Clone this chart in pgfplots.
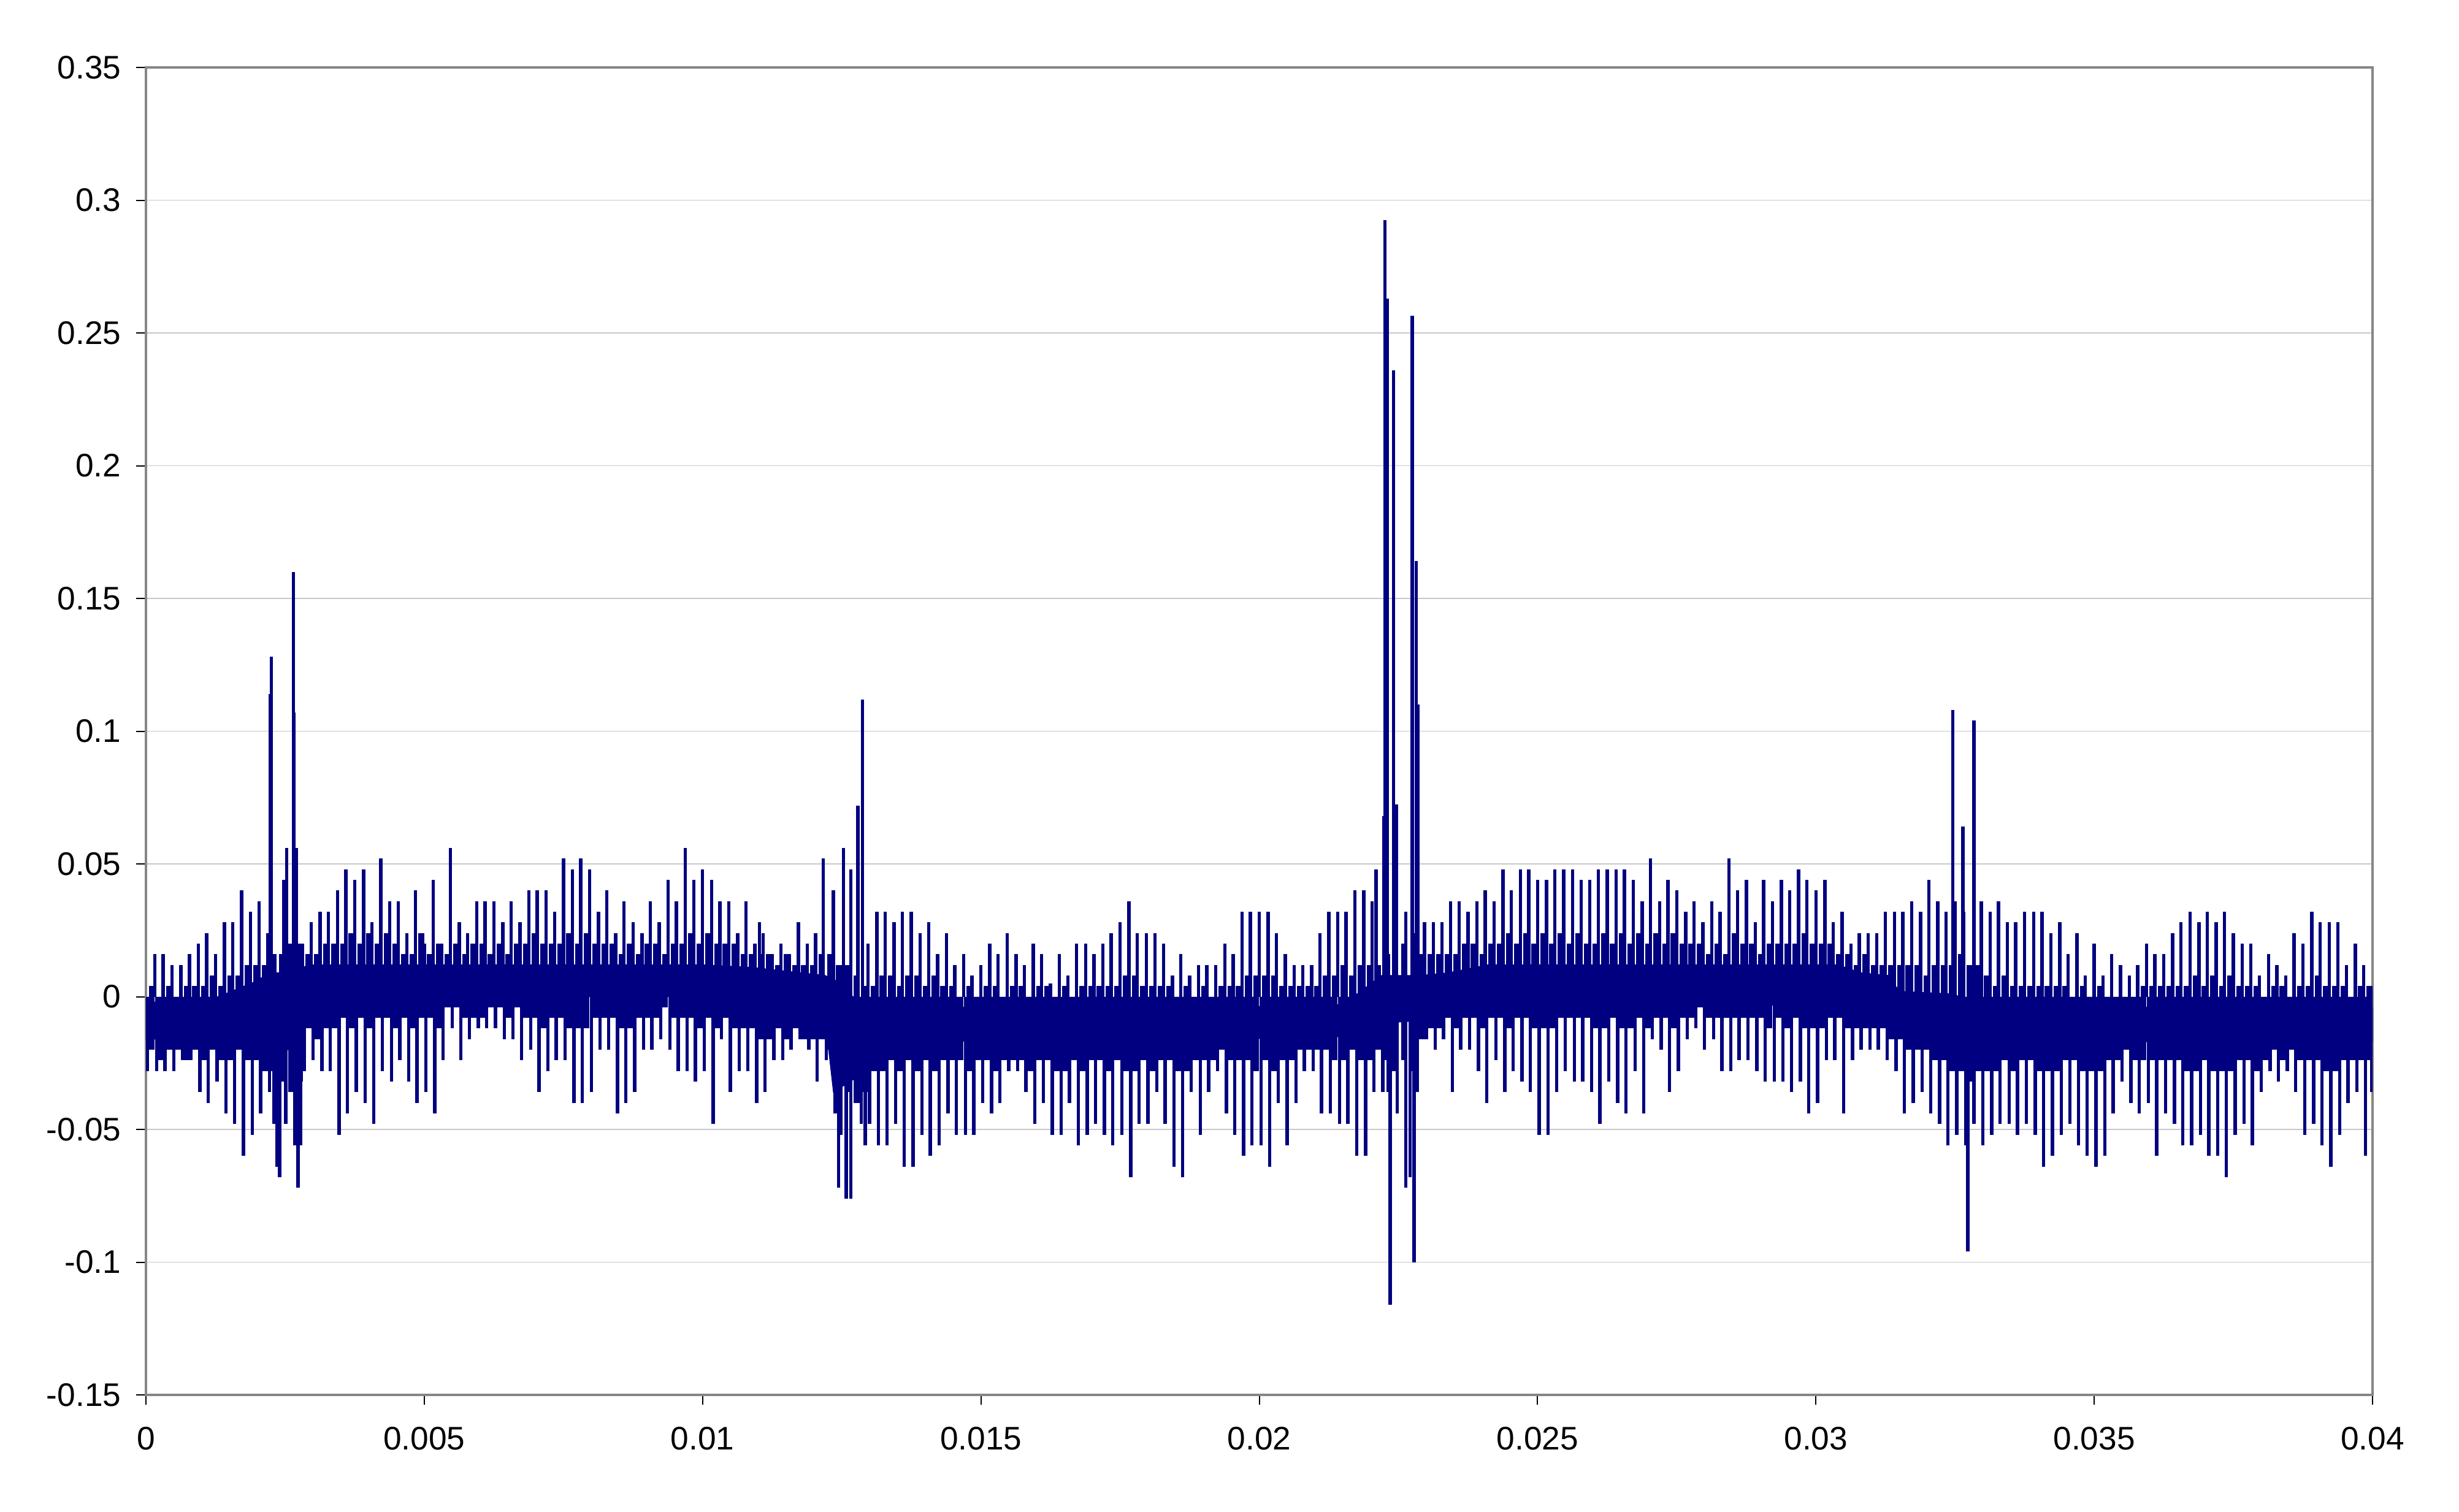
\documentclass[border=0pt]{standalone}
\usepackage{fontspec}
\setmainfont{Liberation Sans}
\usepackage{pgfplots}
\usepackage{pgfplotstable}
\pgfplotsset{compat=1.18}
\definecolor{sig}{RGB}{0,0,128}
\definecolor{frame}{RGB}{134,134,134}
\definecolor{gridc}{RGB}{200,200,200}

% smaller pulses between the main ones, read by eye
\pgfplotstableread{
t up dn
0.00008 0.004 -0.02
0.00024 0 -0.024
0.00039 0.004 -0.02
0.00055 0 -0.02
0.00071 0.004 -0.024
0.00086 0.004 -0.02
0.00102 0.004 -0.024
0.00117 0.008 -0.02
0.00133 0.004 -0.024
0.00149 0.008 -0.024
0.00164 0.008 -0.02
0.0018 0.012 -0.024
0.00196 0.012 -0.024
0.00211 0.012 -0.028
0.00227 0.016 -0.028
0.00242 0.016 -0.032
0.00258 0.02 -0.036
0.00274 0.02 -0.032
0.00289 0.016 -0.012
0.00305 0.016 -0.016
0.00321 0.02 -0.012
0.00336 0.02 -0.012
0.00352 0.02 -0.008
0.00367 0.024 -0.012
0.00383 0.02 -0.008
0.00399 0.024 -0.012
0.00414 0.02 -0.008
0.0043 0.024 -0.008
0.00446 0.02 -0.012
0.00461 0.016 -0.008
0.00477 0.016 -0.012
0.00492 0.024 -0.008
0.00508 0.016 -0.008
0.00524 0.02 -0.012
0.00539 0.016 -0.004
0.00555 0.02 -0.004
0.00571 0.016 -0.008
0.00586 0.02 -0.008
0.00602 0.02 -0.008
0.00617 0.016 -0.004
0.00633 0.02 -0.004
0.00649 0.016 -0.008
0.00664 0.02 -0.004
0.0068 0.02 -0.008
0.00696 0.024 -0.008
0.00711 0.02 -0.012
0.00727 0.02 -0.008
0.00742 0.02 -0.008
0.00758 0.024 -0.012
0.00774 0.02 -0.012
0.00789 0.024 -0.012
0.00805 0.02 -0.008
0.00821 0.02 -0.008
0.00836 0.02 -0.008
0.00852 0.016 -0.012
0.00867 0.02 -0.012
0.00883 0.016 -0.008
0.00899 0.02 -0.008
0.00914 0.02 -0.008
0.0093 0.016 -0.004
0.00946 0.02 -0.008
0.00961 0.02 -0.008
0.00977 0.024 -0.008
0.00992 0.02 -0.012
0.01008 0.024 -0.008
0.01024 0.02 -0.012
0.01039 0.02 -0.008
0.01055 0.02 -0.012
0.01071 0.016 -0.012
0.01086 0.016 -0.012
0.01102 0.016 -0.016
0.01117 0.016 -0.016
0.01133 0.012 -0.012
0.01149 0.016 -0.016
0.01164 0.012 -0.012
0.0118 0.012 -0.016
0.01196 0.012 -0.016
0.01211 0.016 -0.016
0.01227 0.016 -0.02
0.01242 0.012 -0.032
0.01258 0.012 -0.036
0.01274 0.008 -0.04
0.01289 0.004 -0.036
0.01305 0.004 -0.028
0.01321 0.008 -0.028
0.01336 0.008 -0.024
0.01352 0.004 -0.028
0.01367 0.008 -0.024
0.01383 0.008 -0.028
0.01399 0.004 -0.024
0.01414 0.008 -0.028
0.0143 0.004 -0.024
0.01446 0.004 -0.024
0.01461 0 -0.024
0.01477 0.004 -0.028
0.01492 0 -0.024
0.01508 0.004 -0.024
0.01524 0.004 -0.028
0.01539 0 -0.024
0.01555 0.004 -0.024
0.01571 0.004 -0.024
0.01586 0 -0.028
0.01602 0.004 -0.024
0.01617 0.004 -0.024
0.01633 0 -0.028
0.01649 0.004 -0.028
0.01664 0 -0.024
0.0168 0.004 -0.028
0.01696 0.004 -0.024
0.01711 0.004 -0.024
0.01727 0.004 -0.028
0.01742 0.004 -0.024
0.01758 0.008 -0.028
0.01774 0.008 -0.028
0.01789 0.004 -0.024
0.01805 0.004 -0.028
0.01821 0.004 -0.024
0.01836 0.004 -0.024
0.01852 0 -0.028
0.01867 0.004 -0.028
0.01883 0 -0.024
0.01899 0.004 -0.024
0.01914 0 -0.024
0.0193 0.004 -0.02
0.01946 0.004 -0.024
0.01961 0.004 -0.024
0.01977 0.008 -0.024
0.01992 0.008 -0.028
0.02008 0.008 -0.024
0.02024 0.008 -0.028
0.02039 0.004 -0.024
0.02055 0.004 -0.024
0.02071 0.004 -0.02
0.02086 0.004 -0.02
0.02102 0.004 -0.02
0.02117 0.008 -0.02
0.02133 0.008 -0.024
0.02149 0.012 -0.024
0.02164 0.008 -0.02
0.0218 0.012 -0.024
0.02196 0.012 -0.024
0.02211 0.012 -0.02
0.02227 0.016 -0.024
0.02242 0.02 -0.028
0.02258 0.02 -0.024
0.02274 0.024 -0.028
0.02289 0.016 -0.016
0.02305 0.016 -0.012
0.02321 0.016 -0.012
0.02336 0.016 -0.008
0.02352 0.016 -0.012
0.02367 0.02 -0.008
0.02383 0.02 -0.008
0.02399 0.016 -0.012
0.02414 0.02 -0.008
0.0243 0.02 -0.008
0.02446 0.024 -0.012
0.02461 0.02 -0.008
0.02477 0.024 -0.008
0.02492 0.02 -0.012
0.02508 0.024 -0.012
0.02524 0.02 -0.012
0.02539 0.024 -0.008
0.02555 0.02 -0.008
0.02571 0.024 -0.008
0.02586 0.02 -0.008
0.02602 0.02 -0.012
0.02617 0.024 -0.012
0.02633 0.02 -0.008
0.02649 0.024 -0.012
0.02664 0.02 -0.012
0.0268 0.024 -0.008
0.02696 0.02 -0.012
0.02711 0.024 -0.008
0.02727 0.02 -0.008
0.02742 0.024 -0.012
0.02758 0.02 -0.008
0.02774 0.02 -0.008
0.02789 0.02 -0.004
0.02805 0.016 -0.008
0.02821 0.02 -0.008
0.02836 0.016 -0.008
0.02852 0.024 -0.008
0.02867 0.02 -0.008
0.02883 0.02 -0.008
0.02899 0.016 -0.008
0.02914 0.02 -0.012
0.0293 0.02 -0.008
0.02946 0.02 -0.012
0.02961 0.02 -0.008
0.02977 0.024 -0.012
0.02992 0.02 -0.012
0.03008 0.02 -0.012
0.03024 0.02 -0.008
0.03039 0.016 -0.008
0.03055 0.016 -0.012
0.03071 0.012 -0.012
0.03086 0.016 -0.012
0.03102 0.012 -0.012
0.03117 0.012 -0.012
0.03133 0.012 -0.016
0.03149 0.012 -0.016
0.03164 0.012 -0.02
0.0318 0.012 -0.02
0.03196 0.008 -0.02
0.03211 0.012 -0.024
0.03227 0.012 -0.024
0.03242 0.012 -0.028
0.03258 0.016 -0.028
0.03274 0.012 -0.032
0.03289 0.012 -0.028
0.03305 0.008 -0.028
0.03321 0.004 -0.028
0.03336 0.008 -0.024
0.03352 0.004 -0.028
0.03367 0.004 -0.024
0.03383 0.004 -0.024
0.03399 0.004 -0.028
0.03414 0.004 -0.028
0.0343 0.004 -0.028
0.03446 0.004 -0.024
0.03461 0 -0.024
0.03477 0.004 -0.028
0.03492 0 -0.028
0.03508 0.004 -0.028
0.03524 0 -0.024
0.03539 0 -0.024
0.03555 0 -0.02
0.03571 0 -0.024
0.03586 0.004 -0.024
0.03602 0.004 -0.024
0.03617 0.004 -0.024
0.03633 0.004 -0.024
0.03649 0.004 -0.024
0.03664 0.004 -0.028
0.0368 0.008 -0.028
0.03696 0.004 -0.024
0.03711 0.008 -0.028
0.03727 0.004 -0.028
0.03742 0.008 -0.028
0.03758 0.004 -0.024
0.03774 0.004 -0.024
0.03789 0.004 -0.028
0.03805 0 -0.024
0.03821 0.004 -0.02
0.03836 0.004 -0.024
0.03852 0 -0.02
0.03867 0.004 -0.024
0.03883 0.004 -0.024
0.03899 0.008 -0.024
0.03914 0.004 -0.028
0.0393 0.004 -0.028
0.03946 0.004 -0.024
0.03961 0 -0.024
0.03977 0.004 -0.024
0.03992 0.004 -0.024
}\fuzz

\begin{document}
\begin{tikzpicture}
\useasboundingbox (-59.5pt,-47.5pt) rectangle (943pt,568.75pt);
\begin{axis}[
  at={(0pt,0pt)}, anchor=south west,
  scale only axis, width=907.75pt, height=541.25pt,
  xmin=0, xmax=0.04, ymin=-0.15, ymax=0.35,
  xtick={0,0.005,0.01,0.015,0.02,0.025,0.03,0.035,0.04},
  xticklabels={0,0.005,0.01,0.015,0.02,0.025,0.03,0.035,0.04},
  ytick={-0.15,-0.1,-0.05,0,0.05,0.1,0.15,0.2,0.25,0.3,0.35},
  yticklabels={-0.15,-0.1,-0.05,0,0.05,0.1,0.15,0.2,0.25,0.3,0.35},
  scaled ticks=false,
  tick align=outside, tickpos=left,
  major tick length=4pt,
  tick style={black, line width=0.5pt},
  ymajorgrids, grid style={gridc, line width=0.4pt},
  axis line style={frame, line width=1.2pt},
  tick label style={font=\fontsize{13.3}{15}\selectfont, black, inner sep=0pt},
  x tick label style={yshift=-9pt},
  y tick label style={xshift=-6pt},
]
% solid band of the trace
\addplot[sig, fill=sig, line width=0.3pt] coordinates {
(0,-0.002)(0.0008,-0.002)(0.0013,0)(0.002,0.006)(0.0022,0.009)(0.0027,0.009)(0.0029,0.012)
(0.0034,0.012)(0.01,0.012)(0.0109,0.011)(0.0122,0.008)(0.0124,0.006)(0.0127,0)(0.0129,-0.004)
(0.0195,-0.004)(0.0215,-0.003)(0.0222,0.008)(0.0229,0.008)(0.0234,0.009)(0.0241,0.012)
(0.0304,0.012)(0.0308,0.009)(0.0313,0.008)(0.0315,0.002)(0.0325,0.001)(0.0328,-0.004)(0.04,-0.004)
(0.04,-0.017)(0.0328,-0.017)(0.0325,-0.014)(0.0315,-0.012)(0.0313,-0.006)(0.0304,-0.004)(0.0241,0)
(0.0234,-0.005)(0.0229,-0.009)(0.0222,-0.01)(0.0215,-0.015)(0.0195,-0.016)(0.0132,-0.017)(0.0128,-0.03)
(0.01235,-0.036)(0.0122,-0.008)(0.0109,-0.004)(0.01,0)(0.0034,0)(0.0029,-0.004)(0.0027,-0.02)
(0.0022,-0.02)(0.002,-0.016)(0.0013,-0.012)(0.0008,-0.016)(0,-0.016)} \closedcycle;
\addplot[ycomb, sig, line width=1.35pt] table[x=t, y=up] {\fuzz};
\addplot[ycomb, sig, line width=1.35pt] table[x=t, y=dn] {\fuzz};
% the same small pulses occur a second time in each period
\addplot[ycomb, sig, line width=1.35pt] table[x expr=\thisrow{t}+0.00005, y=up] {\fuzz};
\addplot[ycomb, sig, line width=1.35pt] table[x expr=\thisrow{t}+0.00005, y=dn] {\fuzz};
% upward pulses
\addplot[ycomb, sig, line width=1.35pt] coordinates {
(0.00016,0.016)(0.00031,0.016)(0.00047,0.012)(0.00063,0.012)(0.00078,0.016)(0.00094,0.02)(0.00109,0.024)(0.00125,0.016)
(0.00141,0.028)(0.00156,0.028)(0.00172,0.04)(0.00188,0.032)(0.00203,0.036)(0.00219,0.024)(0.00223,0.114)(0.00225,0.128)
(0.00248,0.044)(0.00253,0.056)(0.00265,0.16)(0.00266,0.107)(0.0027,0.056)(0.00281,0.02)(0.00297,0.028)(0.00313,0.032)
(0.00328,0.032)(0.00344,0.04)(0.00359,0.048)(0.00375,0.044)(0.00391,0.048)(0.00406,0.028)(0.00422,0.052)(0.00438,0.036)
(0.00453,0.036)(0.00469,0.024)(0.00484,0.04)(0.005,0.02)(0.00516,0.044)(0.00531,0.02)(0.00547,0.056)(0.00563,0.028)
(0.00578,0.024)(0.00594,0.036)(0.00609,0.036)(0.00625,0.036)(0.00641,0.028)(0.00656,0.036)(0.00672,0.028)(0.00688,0.04)
(0.00703,0.04)(0.00719,0.04)(0.00734,0.032)(0.0075,0.052)(0.00766,0.048)(0.00781,0.052)(0.00797,0.048)(0.00813,0.032)
(0.00828,0.04)(0.00844,0.024)(0.00859,0.036)(0.00875,0.028)(0.00891,0.024)(0.00906,0.036)(0.00922,0.028)(0.00938,0.044)
(0.00953,0.036)(0.00969,0.056)(0.00984,0.044)(0.01,0.048)(0.01016,0.044)(0.01031,0.036)(0.01047,0.036)(0.01063,0.024)
(0.01078,0.036)(0.01094,0.02)(0.01102,0.028)(0.01109,0.024)(0.01125,0.016)(0.01141,0.02)(0.01156,0.016)(0.01172,0.028)
(0.01188,0.02)(0.01203,0.024)(0.01217,0.052)(0.01235,0.04)(0.01253,0.056)(0.01266,0.048)(0.01279,0.072)(0.01287,0.112)
(0.01297,0.02)(0.01313,0.032)(0.01328,0.032)(0.01344,0.028)(0.01359,0.032)(0.01375,0.032)(0.01391,0.024)(0.01406,0.028)
(0.01422,0.016)(0.01438,0.024)(0.01453,0.012)(0.01469,0.016)(0.01484,0.008)(0.015,0.012)(0.01516,0.02)(0.01531,0.016)
(0.01547,0.024)(0.01563,0.016)(0.01578,0.012)(0.01594,0.02)(0.01609,0.016)(0.01625,0.005)(0.01641,0.016)(0.01656,0.008)
(0.01672,0.02)(0.01688,0.02)(0.01703,0.016)(0.01719,0.02)(0.01734,0.024)(0.0175,0.028)(0.01766,0.036)(0.01781,0.024)
(0.01797,0.024)(0.01813,0.024)(0.01828,0.02)(0.01844,0.008)(0.01859,0.016)(0.01875,0.008)(0.01891,0.012)(0.01906,0.012)
(0.01922,0.012)(0.01938,0.02)(0.01953,0.016)(0.01969,0.032)(0.01984,0.032)(0.02,0.032)(0.02016,0.032)(0.02031,0.024)
(0.02047,0.016)(0.02063,0.012)(0.02078,0.012)(0.02094,0.012)(0.02109,0.024)(0.02125,0.032)(0.02141,0.032)(0.02156,0.032)
(0.02172,0.04)(0.02188,0.04)(0.02203,0.036)(0.0221,0.048)(0.02224,0.068)(0.02226,0.2925)(0.0223,0.263)(0.02241,0.236)
(0.02246,0.0725)(0.02263,0.032)(0.02274,0.155)(0.02275,0.2565)(0.02282,0.164)(0.02285,0.11)(0.02297,0.028)(0.02313,0.028)
(0.02328,0.028)(0.02344,0.036)(0.02359,0.036)(0.02375,0.032)(0.02391,0.036)(0.02406,0.04)(0.02422,0.036)(0.02438,0.048)
(0.02453,0.04)(0.02469,0.048)(0.02484,0.048)(0.025,0.044)(0.02516,0.044)(0.02531,0.048)(0.02547,0.048)(0.02563,0.048)
(0.02578,0.044)(0.02594,0.044)(0.02609,0.048)(0.02625,0.048)(0.02641,0.048)(0.02656,0.048)(0.02672,0.044)(0.02688,0.036)
(0.02703,0.052)(0.02719,0.036)(0.02734,0.044)(0.0275,0.04)(0.02766,0.032)(0.02781,0.036)(0.02797,0.028)(0.02813,0.036)
(0.02828,0.032)(0.02844,0.052)(0.02859,0.04)(0.02875,0.044)(0.02891,0.028)(0.02906,0.044)(0.02922,0.036)(0.02938,0.044)
(0.02953,0.04)(0.02969,0.048)(0.02984,0.044)(0.03,0.04)(0.03016,0.044)(0.03031,0.028)(0.03047,0.032)(0.03063,0.02)
(0.03078,0.024)(0.03094,0.024)(0.03109,0.024)(0.03125,0.032)(0.03141,0.032)(0.03156,0.032)(0.03172,0.036)(0.03188,0.032)
(0.03203,0.044)(0.03219,0.036)(0.03234,0.032)(0.03246,0.108)(0.0325,0.036)(0.03264,0.064)(0.03266,0.032)(0.03284,0.104)
(0.03297,0.036)(0.03313,0.032)(0.03328,0.036)(0.03344,0.028)(0.03359,0.028)(0.03375,0.032)(0.03391,0.032)(0.03406,0.032)
(0.03422,0.024)(0.03438,0.028)(0.03453,0.016)(0.03469,0.024)(0.03484,0.008)(0.035,0.02)(0.03516,0.008)(0.03531,0.016)
(0.03547,0.012)(0.03563,0.008)(0.03578,0.012)(0.03594,0.02)(0.03609,0.016)(0.03625,0.016)(0.03641,0.024)(0.03656,0.028)
(0.03672,0.032)(0.03688,0.028)(0.03703,0.032)(0.03719,0.028)(0.03734,0.032)(0.0375,0.024)(0.03766,0.02)(0.03781,0.02)
(0.03797,0.008)(0.03813,0.016)(0.03828,0.012)(0.03844,0.008)(0.03859,0.024)(0.03875,0.02)(0.03891,0.032)(0.03906,0.028)
(0.03922,0.028)(0.03938,0.028)(0.03953,0.012)(0.03969,0.02)(0.03984,0.012)(0.04,0.004)};
% downward pulses
\addplot[ycomb, sig, line width=1.35pt] coordinates {
(0.00003,-0.028)(0.00019,-0.028)(0.00034,-0.028)(0.0005,-0.028)(0.00066,-0.024)(0.00081,-0.024)(0.00097,-0.036)(0.00112,-0.04)
(0.00128,-0.032)(0.00144,-0.044)(0.00159,-0.048)(0.00175,-0.06)(0.00191,-0.052)(0.00206,-0.044)(0.00222,-0.036)(0.0023,-0.048)
(0.00235,-0.064)(0.0024,-0.068)(0.00251,-0.048)(0.00258,-0.036)(0.00267,-0.056)(0.00273,-0.072)(0.00278,-0.056)(0.00284,-0.028)
(0.003,-0.024)(0.00316,-0.028)(0.00331,-0.028)(0.00347,-0.052)(0.00362,-0.044)(0.00378,-0.036)(0.00394,-0.04)(0.00409,-0.048)
(0.00425,-0.028)(0.00441,-0.032)(0.00456,-0.024)(0.00472,-0.032)(0.00487,-0.04)(0.00503,-0.036)(0.00519,-0.044)(0.00534,-0.024)
(0.0055,-0.012)(0.00566,-0.024)(0.00581,-0.016)(0.00597,-0.012)(0.00612,-0.012)(0.00628,-0.012)(0.00644,-0.016)(0.00659,-0.016)
(0.00675,-0.024)(0.00691,-0.02)(0.00706,-0.036)(0.00722,-0.028)(0.00737,-0.024)(0.00753,-0.024)(0.00769,-0.04)(0.00784,-0.04)
(0.008,-0.036)(0.00816,-0.02)(0.00831,-0.02)(0.00847,-0.044)(0.00862,-0.04)(0.00878,-0.036)(0.00894,-0.02)(0.00909,-0.02)
(0.00925,-0.016)(0.00941,-0.02)(0.00956,-0.028)(0.00972,-0.028)(0.00987,-0.032)(0.01003,-0.028)(0.01019,-0.048)(0.01034,-0.016)
(0.0105,-0.036)(0.01066,-0.028)(0.01081,-0.028)(0.01097,-0.04)(0.01112,-0.036)(0.01128,-0.024)(0.01144,-0.024)(0.01159,-0.02)
(0.01175,-0.016)(0.01191,-0.02)(0.01206,-0.032)(0.01222,-0.024)(0.01238,-0.044)(0.01244,-0.072)(0.01249,-0.052)(0.01258,-0.076)
(0.01266,-0.076)(0.01276,-0.04)(0.01285,-0.048)(0.01292,-0.056)(0.013,-0.048)(0.01316,-0.056)(0.01331,-0.056)(0.01347,-0.048)
(0.01362,-0.064)(0.01378,-0.064)(0.01394,-0.052)(0.01409,-0.06)(0.01425,-0.056)(0.01441,-0.044)(0.01456,-0.052)(0.01472,-0.052)
(0.01487,-0.052)(0.01503,-0.04)(0.01519,-0.044)(0.01534,-0.04)(0.0155,-0.028)(0.01566,-0.028)(0.01581,-0.036)(0.01597,-0.048)
(0.01612,-0.04)(0.01628,-0.052)(0.01644,-0.052)(0.01659,-0.04)(0.01675,-0.056)(0.01691,-0.052)(0.01706,-0.048)(0.01722,-0.052)
(0.01737,-0.056)(0.01753,-0.052)(0.01769,-0.068)(0.01784,-0.048)(0.018,-0.048)(0.01816,-0.036)(0.01831,-0.048)(0.01847,-0.064)
(0.01862,-0.068)(0.01878,-0.036)(0.01894,-0.052)(0.01909,-0.036)(0.01925,-0.028)(0.01941,-0.044)(0.01956,-0.052)(0.01972,-0.06)
(0.01987,-0.056)(0.02003,-0.056)(0.02019,-0.064)(0.02034,-0.04)(0.0205,-0.056)(0.02066,-0.04)(0.02081,-0.028)(0.02097,-0.028)
(0.02112,-0.044)(0.02128,-0.044)(0.02144,-0.048)(0.02159,-0.048)(0.02175,-0.06)(0.02191,-0.06)(0.02206,-0.036)(0.02222,-0.036)
(0.02231,-0.036)(0.02235,-0.116)(0.02236,-0.085)(0.02248,-0.044)(0.02263,-0.072)(0.02271,-0.068)(0.02278,-0.1)(0.02284,-0.036)
(0.023,-0.016)(0.02316,-0.02)(0.02331,-0.016)(0.02347,-0.036)(0.02362,-0.02)(0.02378,-0.02)(0.02394,-0.028)(0.02409,-0.04)
(0.02425,-0.024)(0.02441,-0.036)(0.02456,-0.028)(0.02472,-0.032)(0.02487,-0.036)(0.02503,-0.052)(0.02519,-0.052)(0.02534,-0.036)
(0.0255,-0.028)(0.02566,-0.032)(0.02581,-0.032)(0.02597,-0.036)(0.02612,-0.048)(0.02628,-0.032)(0.02644,-0.04)(0.02659,-0.044)
(0.02675,-0.028)(0.02691,-0.044)(0.02706,-0.016)(0.02722,-0.02)(0.02737,-0.036)(0.02753,-0.028)(0.02769,-0.016)(0.02784,-0.012)
(0.028,-0.02)(0.02816,-0.016)(0.02831,-0.028)(0.02847,-0.028)(0.02862,-0.024)(0.02878,-0.024)(0.02894,-0.028)(0.02909,-0.032)
(0.02925,-0.032)(0.02941,-0.032)(0.02956,-0.036)(0.02972,-0.032)(0.02987,-0.044)(0.03003,-0.04)(0.03019,-0.024)(0.03034,-0.024)
(0.0305,-0.044)(0.03066,-0.024)(0.03081,-0.02)(0.03097,-0.02)(0.03112,-0.02)(0.03128,-0.024)(0.03144,-0.028)(0.03159,-0.044)
(0.03175,-0.04)(0.03191,-0.036)(0.03206,-0.044)(0.03222,-0.048)(0.03237,-0.056)(0.03253,-0.052)(0.03269,-0.056)(0.03273,-0.096)
(0.03284,-0.048)(0.033,-0.056)(0.03316,-0.052)(0.03331,-0.048)(0.03347,-0.048)(0.03362,-0.052)(0.03378,-0.048)(0.03394,-0.052)
(0.03409,-0.064)(0.03425,-0.06)(0.03441,-0.052)(0.03456,-0.048)(0.03472,-0.056)(0.03487,-0.06)(0.03503,-0.064)(0.03519,-0.06)
(0.03534,-0.044)(0.0355,-0.032)(0.03566,-0.04)(0.03581,-0.044)(0.03597,-0.04)(0.03612,-0.06)(0.03628,-0.044)(0.03644,-0.048)
(0.03659,-0.056)(0.03675,-0.056)(0.03691,-0.052)(0.03706,-0.06)(0.03722,-0.06)(0.03737,-0.068)(0.03753,-0.052)(0.03769,-0.048)
(0.03784,-0.056)(0.038,-0.036)(0.03816,-0.028)(0.03831,-0.032)(0.03847,-0.028)(0.03862,-0.036)(0.03878,-0.052)(0.03894,-0.048)
(0.03909,-0.056)(0.03925,-0.064)(0.03941,-0.052)(0.03956,-0.04)(0.03972,-0.036)(0.03987,-0.06)(0.03998,-0.036)};
\end{axis}
\end{tikzpicture}
\end{document}
